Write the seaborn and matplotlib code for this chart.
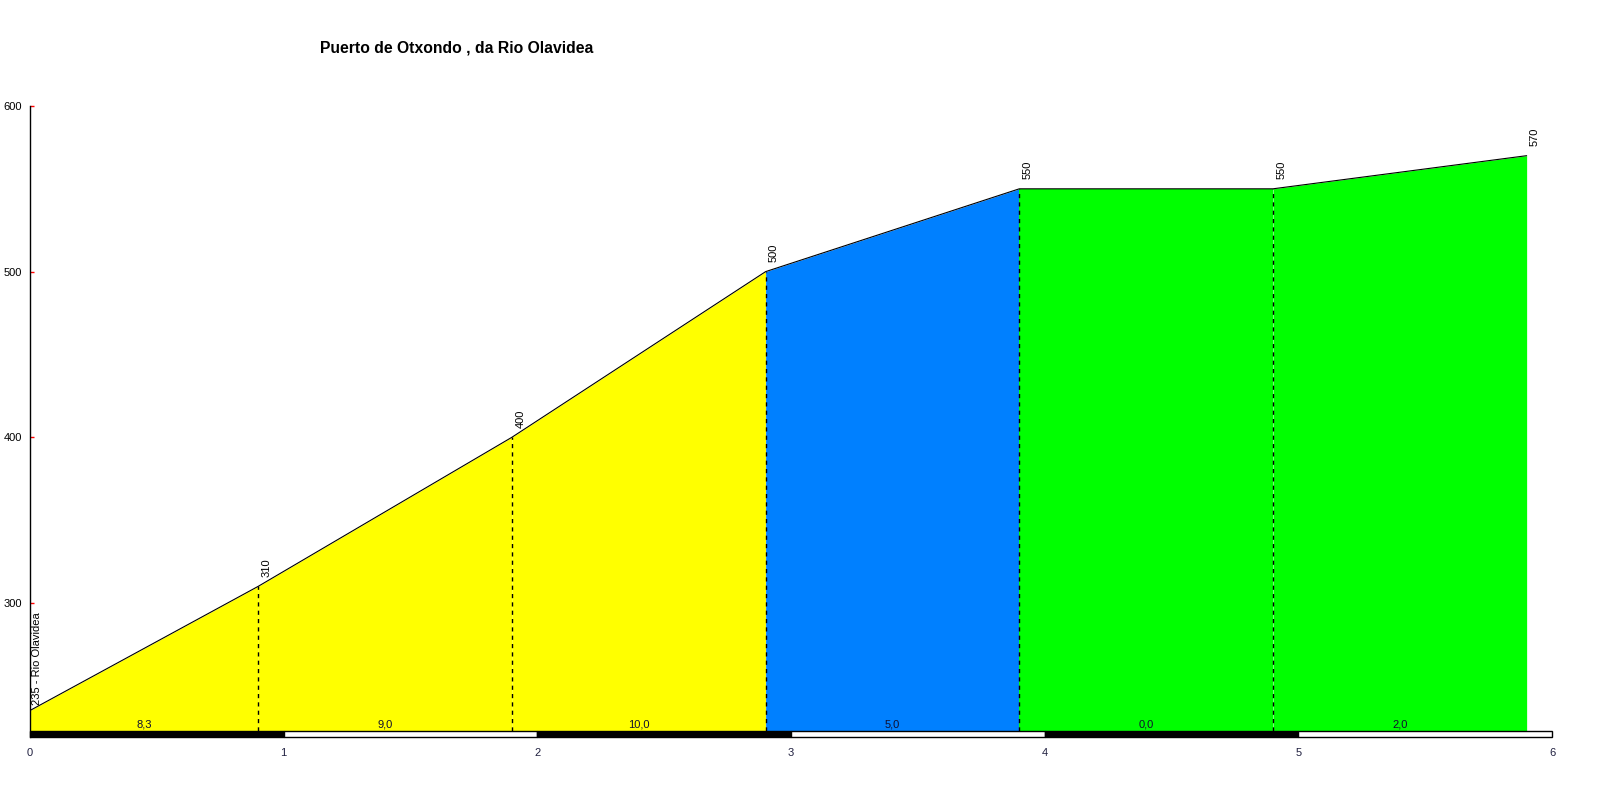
import matplotlib
matplotlib.use("Agg")
import matplotlib.pyplot as plt
import seaborn as sns
import pandas as pd
from matplotlib.patches import Rectangle

sns.set_style("white")
plt.rcParams['font.family'] = ['Liberation Sans', 'DejaVu Sans']

title = "Puerto de Otxondo , da Rio Olavidea"
dist_km = [0.0, 0.9, 1.9, 2.9, 3.9, 4.9, 5.9]
elev_m = [235, 310, 400, 500, 550, 550, 570]
point_labels = ["235 - Rio Olavidea", "310", "400", "500", "550", "550", "570"]
grade_labels = ["8,3", "9,0", "10,0", "5,0", "0,0", "2,0"]
seg_colors = ["#FFFF00", "#FFFF00", "#FFFF00", "#0080FF", "#00FF00", "#00FF00"]
y_ticks = [300, 400, 500, 600]
x_ticks = [0, 1, 2, 3, 4, 5, 6]

base = 222.6
ymin = 219.0

fig = plt.figure(figsize=(16, 8), dpi=100)
ax = fig.add_axes([30/1600, 1 - 737/800, (1552 - 30)/1600, (737 - 106)/800])

df = pd.DataFrame({"km": dist_km, "m": elev_m})

for i in range(len(dist_km) - 1):
    ax.fill_between(dist_km[i:i+2], elev_m[i:i+2], base, color=seg_colors[i], lw=0, zorder=1)

sns.lineplot(data=df, x="km", y="m", ax=ax, color="black", lw=0.8, zorder=3)

for i in range(1, len(dist_km) - 1):
    ax.plot([dist_km[i], dist_km[i]], [base, elev_m[i]], color="black", lw=1, ls=(0, (3, 3)), zorder=2)

# elevation labels
for i, (x, y, t) in enumerate(zip(dist_km, elev_m, point_labels)):
    off = (5, 4) if i == 0 else (6, 7)
    ax.annotate(t, (x, y), xytext=off, textcoords="offset points", rotation=90,
                ha="center", va="bottom", fontsize=8, color="black")

# grade labels
for i, t in enumerate(grade_labels):
    xm = (dist_km[i] + dist_km[i+1]) / 2
    ax.annotate(t, (xm, base), xytext=(0, 1), textcoords="offset points",
                ha="center", va="bottom", fontsize=8, color="#101030")

# km bar
for k in range(6):
    ax.add_patch(Rectangle((k, ymin), 1, base - ymin, facecolor="black" if k % 2 == 0 else "white",
                           edgecolor="black", lw=1, zorder=4, clip_on=False))

ax.set_xlim(0, 6)
ax.set_ylim(ymin, 600)
ax.set_yticks(y_ticks)
ax.set_yticklabels([str(v) for v in y_ticks], fontsize=8, color="black")
ax.tick_params(axis="y", left=True, direction="in", length=3, color="red", width=1, pad=6)
ax.set_xticks(x_ticks)
ax.set_xticklabels([str(v) for v in x_ticks], fontsize=8, color="#202040")
ax.tick_params(axis="x", bottom=False, length=0, pad=8)
ax.set_xlabel("")
ax.set_ylabel("")
for s in ["top", "right", "bottom"]:
    ax.spines[s].set_visible(False)
ax.spines["left"].set_color("black")
ax.spines["left"].set_linewidth(1)

fig.text(457/1600, 1 - 48/800, title, ha="center", va="center", fontsize=11.3,
         fontweight="bold", color="black")

fig.savefig("out.png", dpi=100)
